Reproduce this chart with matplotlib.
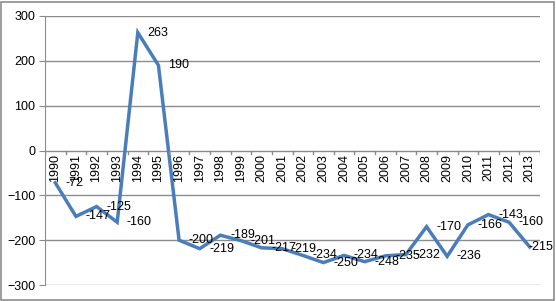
import matplotlib.pyplot as plt
from matplotlib.patches import Rectangle

years = [str(y) for y in range(1990, 2014)]
values = [-72, -147, -125, -160, 263, 190, -200, -219, -189, -201, -217, -219,
          -234, -250, -234, -248, -235, -232, -170, -236, -166, -143, -160, -215]

plt.rcParams["font.family"] = ["Liberation Sans", "DejaVu Sans"]
fs = 9

fig = plt.figure(figsize=(5.56, 3.01), dpi=100)
ax = fig.add_axes([45 / 556, 16 / 301, 495 / 556, 269 / 301])
fig.patches.append(Rectangle((0.002, 0.003), 0.994, 0.992, transform=fig.transFigure,
                             fill=False, edgecolor="#8c8c8c", linewidth=1.2))

x = list(range(len(years)))
ax.plot(x, values, color="#4a7ebb", linewidth=2.5, solid_joinstyle="miter")
for xi, v in zip(x, values):
    # the last label is pushed back inside the chart, as Excel does
    dx = 7 if xi < len(years) - 1 else -1
    ax.annotate(str(v), (xi, v), xytext=(dx, 0), textcoords="offset points",
                va="center", ha="left", fontsize=fs)

ax.set_xlim(-0.5, len(years) - 0.5)
ax.set_ylim(-300, 300)
ax.set_yticks(range(-300, 301, 100))
for y in [-300, -200, -100, 100, 200, 300]:
    ax.axhline(y, color="#8c8c8c", linewidth=1, zorder=0)
ax.axhline(0, color="#8c8c8c", linewidth=1, zorder=1)

for s in ["top", "right", "bottom"]:
    ax.spines[s].set_visible(False)
ax.spines["left"].set_color("#8c8c8c")
ax.tick_params(axis="y", labelsize=fs, length=4, color="#8c8c8c", pad=3)

# category labels along the zero line
ax.set_xticks([])
for xi, yr in zip(x, years):
    ax.text(xi, -8, yr, rotation=90, ha="center", va="top", fontsize=fs)
    ax.plot([xi - 0.5, xi - 0.5], [0, -8], color="#8c8c8c", linewidth=1)
ax.plot([len(years) - 0.5] * 2, [0, -8], color="#8c8c8c", linewidth=1)

fig.savefig("out.png", dpi=100)
